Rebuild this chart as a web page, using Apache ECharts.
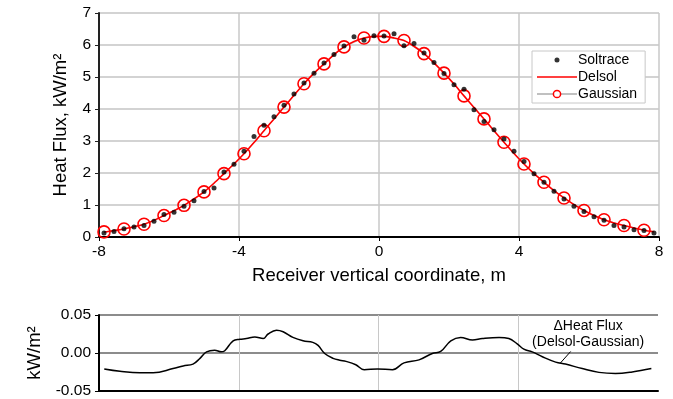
<!DOCTYPE html>
<html><head><meta charset="utf-8">
<script src="https://cdn.jsdelivr.net/npm/echarts@6/dist/echarts.min.js"></script>
<style>html,body{margin:0;padding:0;background:#fff}#c{width:673px;height:399px}</style>
</head><body><div id="c"></div>
<script>
// Receiver vertical coordinate positions (m)
const soltraceX = [];
for (let k = 0; k < 56; k++) soltraceX.push(+(-8 + 16 / 112 + k * 16 / 56).toFixed(3));
const soltraceY = [0.125,0.175,0.26,0.31,0.36,0.49,0.70,0.77,0.96,1.13,1.42,1.53,2.03,2.27,2.68,3.14,3.49,3.76,4.12,4.47,4.81,5.12,5.44,5.70,5.97,6.26,6.15,6.29,6.28,6.35,5.98,6.05,5.75,5.45,5.11,4.76,4.62,3.98,3.61,3.35,3.06,2.68,2.36,1.98,1.71,1.43,1.19,0.96,0.80,0.63,0.52,0.36,0.31,0.23,0.20,0.125];
const delsolY = [0.15,0.20,0.25,0.32,0.40,0.52,0.67,0.82,0.99,1.19,1.41,1.68,1.98,2.28,2.60,2.95,3.32,3.69,4.06,4.43,4.79,5.12,5.41,5.70,5.94,6.11,6.22,6.27,6.27,6.22,6.14,5.96,5.73,5.44,5.12,4.78,4.41,4.05,3.69,3.32,2.96,2.61,2.28,1.98,1.71,1.45,1.22,1.01,0.83,0.67,0.54,0.44,0.36,0.28,0.21,0.16];
const gaussX = soltraceX.filter((v, i) => i % 2 === 0);
const gaussY = [0.16,0.25,0.40,0.67,0.99,1.41,1.98,2.60,3.32,4.06,4.79,5.41,5.94,6.22,6.27,6.14,5.73,5.12,4.41,3.69,2.96,2.28,1.71,1.22,0.83,0.54,0.36,0.21];
// Difference Delsol - Gaussian (kW/m2)
const diffX = [-7.85,-7.4,-6.83,-6.45,-5.88,-5.59,-5.31,-5.11,-4.92,-4.69,-4.5,-4.4,-4.16,-3.97,-3.78,-3.54,-3.3,-3.16,-2.92,-2.73,-2.45,-2.16,-1.88,-1.73,-1.54,-1.3,-1.11,-0.93,-0.65,-0.41,-0.03,0.40,0.73,1.16,1.54,1.78,2.07,2.35,2.69,2.97,3.45,3.73,3.97,4.16,4.4,4.69,5.07,5.35,5.83,6.31,6.78,7.26,7.81];
const diffY = [-0.021,-0.024,-0.026,-0.026,-0.0205,-0.017,-0.0146,-0.007,0.0015,0.0036,0.0015,0.003,0.016,0.018,0.019,0.021,0.019,0.025,0.030,0.028,0.0205,0.016,0.014,0.010,-0.0006,-0.007,-0.0095,-0.011,-0.0154,-0.022,-0.021,-0.022,-0.013,-0.009,-0.0006,0.002,0.016,0.0205,0.017,0.019,0.0205,0.019,0.012,0.005,0.0015,-0.005,-0.012,-0.0146,-0.0205,-0.0255,-0.027,-0.025,-0.0205];
const xTicks = [-8, -4, 0, 4, 8];
const seriesNames = ['Soltrace', 'Delsol', 'Gaussian'];

const zip = (a, b) => a.map((v, i) => [v, b[i]]);
const FONT = 'Liberation Sans, Arial, sans-serif';
const chart = echarts.init(document.getElementById('c'), null, {renderer: 'canvas'});
const option = {
  animation: false,
  backgroundColor: '#fff',
  textStyle: {fontFamily: FONT},
  grid: [
    {left: 99, right: 14, top: 13, bottom: 162},
    {left: 99, right: 15, top: 315, bottom: 5}
  ],
  xAxis: [
    {gridIndex: 0, type: 'value', min: xTicks[0], max: xTicks[xTicks.length - 1], interval: 4,
     name: 'Receiver vertical coordinate, m', nameLocation: 'middle', nameGap: 29,
     nameTextStyle: {fontSize: 18.5, color: '#000', fontFamily: FONT},
     axisLine: {show: true, onZero: false, lineStyle: {color: '#000', width: 2}},
     axisTick: {show: true, length: 4, lineStyle: {color: '#000'}},
     axisLabel: {fontSize: 15.5, color: '#000', margin: 7, fontFamily: FONT},
     splitLine: {show: true, lineStyle: {color: '#c8c8c8', width: 1.5}}},
    {gridIndex: 1, type: 'value', min: -8, max: 8, interval: 4,
     axisLine: {show: true, onZero: false, lineStyle: {color: '#000', width: 2}},
     axisTick: {show: false}, axisLabel: {show: false},
     splitLine: {show: true, showMinLine: false, showMaxLine: false, lineStyle: {color: '#c8c8c8', width: 1}}}
  ],
  yAxis: [
    {gridIndex: 0, type: 'value', min: 0, max: 7, interval: 1,
     name: 'Heat Flux, kW/m²', nameLocation: 'middle', nameGap: 29,
     nameTextStyle: {fontSize: 18.5, color: '#000', fontFamily: FONT},
     axisLine: {show: true, onZero: false, lineStyle: {color: '#222', width: 2}},
     axisTick: {show: true, length: 4, lineStyle: {color: '#222'}},
     axisLabel: {fontSize: 15.5, color: '#000', margin: 8, fontFamily: FONT},
     splitLine: {show: true, lineStyle: {color: '#c4c4c4', width: 1.5}}},
    {gridIndex: 1, type: 'value', min: -0.05, max: 0.05, interval: 0.05,
     name: 'kW/m²', nameLocation: 'middle', nameGap: 48,
     nameTextStyle: {fontSize: 18.5, color: '#000', fontFamily: FONT},
     axisLine: {show: true, onZero: false, lineStyle: {color: '#000', width: 2}},
     axisTick: {show: true, length: 4, lineStyle: {color: '#000'}},
     axisLabel: {fontSize: 15.5, color: '#000', margin: 8, fontFamily: FONT, formatter: v => v.toFixed(2)},
     splitLine: {show: true, lineStyle: {color: '#8c8c8c', width: 2}}}
  ],
  legend: {
    show: true, orient: 'vertical', left: 532, top: 51, width: 114,
    backgroundColor: '#fff', borderColor: '#c8c8c8', borderWidth: 1,
    padding: [2, 8, 2, 4], itemGap: 3, itemWidth: 40, itemHeight: 9,
    textStyle: {fontSize: 14, color: '#000', fontFamily: FONT, padding: [0, 0, 0, -4]},
    data: [
      {name: seriesNames[0], icon: 'path://M0,0 L0,0 Z M40,9 L40,9 Z M17.5,4.5 a2.5,2.5 0 1,0 5,0 a2.5,2.5 0 1,0 -5,0 Z', itemStyle: {color: '#000'}},
      {name: seriesNames[1], icon: 'path://M0,0 H40 V1.6 H0 Z', itemStyle: {color: '#ff0000'}},
      {name: seriesNames[2], itemStyle: {color: '#ffffff', borderColor: '#ff0000', borderWidth: 1.5}}
    ]
  },
  series: [
    {name: seriesNames[2], type: 'line', xAxisIndex: 0, yAxisIndex: 0, data: zip(gaussX, gaussY),
     symbol: 'circle', symbolSize: 12, z: 2,
     lineStyle: {color: '#c0c0c0', width: 1},
     itemStyle: {color: 'rgba(255,255,255,0)', borderColor: '#ff0000', borderWidth: 1.6}},
    {name: seriesNames[1], type: 'line', xAxisIndex: 0, yAxisIndex: 0, data: zip(soltraceX, delsolY),
     symbol: 'none', smooth: 0.3, z: 3,
     lineStyle: {color: '#ff0000', width: 1.6}, itemStyle: {color: '#ff0000'}},
    {name: seriesNames[0], type: 'scatter', xAxisIndex: 0, yAxisIndex: 0, data: zip(soltraceX, soltraceY),
     symbol: 'circle', symbolSize: 5, z: 4, itemStyle: {color: '#000'}},
    {name: 'diff', type: 'line', xAxisIndex: 1, yAxisIndex: 1, data: zip(diffX, diffY),
     symbol: 'none', smooth: 0.4, z: 3,
     lineStyle: {color: '#000', width: 1.5}}
  ]
};
chart.setOption(option);
// Annotation for the difference curve, anchored in data coordinates
const pTip = chart.convertToPixel({gridIndex: 1}, [5.2, -0.0135]);
const pStart = chart.convertToPixel({gridIndex: 1}, [5.5, 0.002]);
const pText = chart.convertToPixel({gridIndex: 1}, [6.0, 0.035]);
chart.setOption({
  graphic: [
    {type: 'line', shape: {x1: pStart[0], y1: pStart[1], x2: pTip[0], y2: pTip[1]},
     style: {stroke: '#000', lineWidth: 1}, z: 10},
    {type: 'text', x: pText[0], y: pText[1], z: 10,
     style: {text: 'ΔHeat Flux', fill: '#000', font: '14px ' + FONT, align: 'center', verticalAlign: 'middle'}},
    {type: 'text', x: pText[0], y: pText[1] + 16, z: 10,
     style: {text: '(Delsol-Gaussian)', fill: '#000', font: '14px ' + FONT, align: 'center', verticalAlign: 'middle'}}
  ]
});
</script></body></html>
